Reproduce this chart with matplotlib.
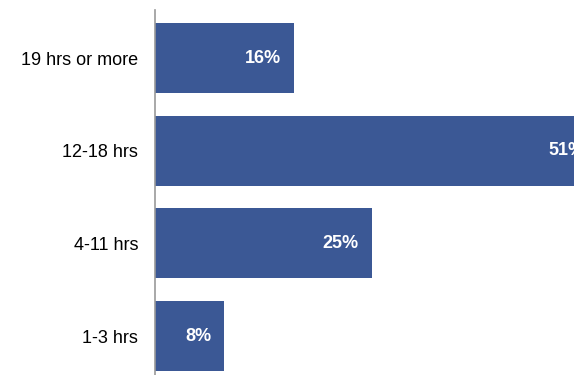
import matplotlib.pyplot as plt

plt.rcParams['font.family'] = ['Liberation Sans', 'DejaVu Sans']

categorias = ["1-3 hrs", "4-11 hrs", "12-18 hrs", "19 hrs or more"]
valores = [8, 25, 51, 16]
rotulos = ["8%", "25%", "51%", "16%"]

cor = "#3B5895"

fig = plt.figure(figsize=(5.74, 3.75), dpi=100)
# axes a partir de x=155px, do topo (y=10px) ate o fim da figura
ax = fig.add_axes([155/574, 0, 1 - 155/574, 1 - 10/375])

pos = list(range(len(categorias)))
ax.barh(pos, valores, height=0.755, color=cor)

# rotulos dentro da barra, perto do fim (o de 51% fica cortado, como no original)
for y, v, r in zip(pos, valores, rotulos):
  ax.annotate(r, (v, y), xytext=(-9.5, 0), textcoords="offset points",
              ha="right", va="center", color="white", fontsize=13,
              fontweight="bold", annotation_clip=False)

ax.set_xlim(0, 419/8.68)
ax.set_ylim(-0.42, 3.518)
ax.set_yticks(pos)
ax.set_yticklabels(categorias, fontsize=13)
ax.tick_params(axis="y", length=0, pad=12)
ax.set_xticks([])

for lado in ["top", "right", "bottom"]:
  ax.spines[lado].set_visible(False)
ax.spines["left"].set_color("#999999")
ax.spines["left"].set_linewidth(1.2)

fig.savefig("out.png", dpi=100)
